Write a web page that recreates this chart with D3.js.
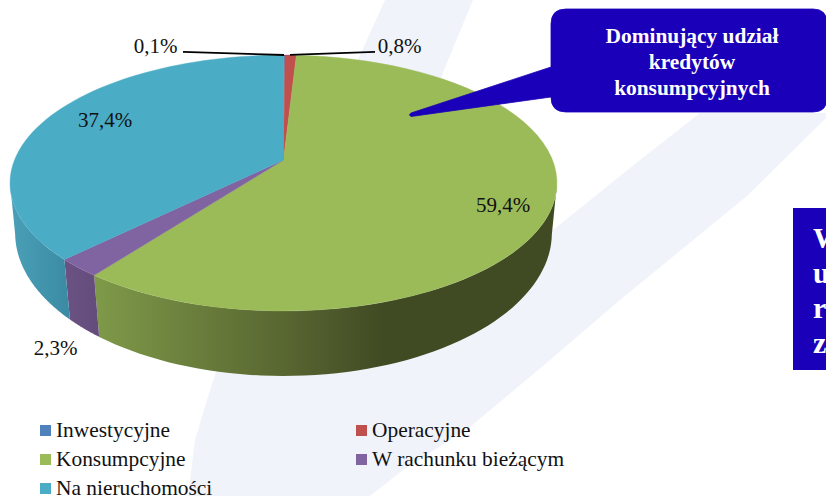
<!DOCTYPE html>
<html lang="en">
<head>
<meta charset="utf-8">
<title>Kredyty</title>
<script src="https://d3js.org/d3.v7.min.js"></script>
<style>
html, body { margin: 0; padding: 0; background: #fff; overflow: hidden; }
text { font-family: "Liberation Serif", serif; fill: #111; }
</style>
</head>
<body>
<script>
var categories = ["Inwestycyjne", "Operacyjne", "Konsumpcyjne", "W rachunku bieżącym", "Na nieruchomości"];
var values = [0.1, 0.8, 59.4, 2.3, 37.4];
var valueLabels = ["0,1%", "0,8%", "59,4%", "2,3%", "37,4%"];
var topColors = ["#4f81bd", "#c0504d", "#9bbb59", "#8064a2", "#4bacc6"];
var calloutLines = ["Dominujący udział", "kredytów", "konsumpcyjnych"];
var sideLetters = ["W", "u", "r", "z"];

var w = 826, h = 496;
var svg = d3.select("body").append("svg").attr("width", w).attr("height", h).style("display", "block");

// pale background swoosh, most of the inner edge is hidden by the pie
var bg = "#f0f3f9";
svg.append("path").attr("fill", bg)
  .attr("d", "M385,0 L473,0 L442,75 L420,200 L553,230 L640,160 L700,113 L827,113 L827,117 L747,196 L620,300 L550,360 L470,427 L403,470 L370,496 L188,496 L195,440 L207,400 L215,375 Z");

// perspective of the pie: the centre sits above the middle of the ellipse
var cx = 283.5, cy = 160, A = 269, B = 123.8, k = 0.18;
var A2 = 264.5, B2 = 139, k2 = 0.169, wallDrop = 48.7;

function topPoint(a) {
  var u = Math.sin(a), v = -Math.cos(a), d = 1 - k * v;
  return [cx + A * u / d, cy + B * v / d];
}
function bottomPoint(a) {
  var u = Math.sin(a), v = -Math.cos(a), d = 1 - k2 * v;
  return [cx + A2 * u / d, cy + wallDrop + B2 * v / d];
}

var arcs = d3.pie().sort(null)(values);
var line = d3.line();

function arcPoints(fn, a0, a1) {
  return d3.range(0, 61).map(function(i) { return fn(a0 + (a1 - a0) * i / 60); });
}

// wall shading runs along x
var wallStops = {
  2: [[93, "#7f9a49"], [300, "#55622f"], [385, "#404a23"], [557, "#404a23"]],
  3: [[64, "#6a5284"], [98, "#644c7b"]],
  4: [[10, "#4aa0b8"], [70, "#3b8aa3"]]
};
var defs = svg.append("defs");
Object.keys(wallStops).forEach(function(i) {
  var st = wallStops[i];
  var x0 = st[0][0], x1 = st[st.length - 1][0];
  defs.append("linearGradient").attr("id", "wall" + i)
    .attr("gradientUnits", "userSpaceOnUse")
    .attr("x1", x0).attr("x2", x1).attr("y1", 0).attr("y2", 0)
    .selectAll("stop").data(st).enter().append("stop")
    .attr("offset", function(d) { return (d[0] - x0) / (x1 - x0); })
    .attr("stop-color", function(d) { return d[1]; });
});

// front walls: start where the top ellipse is widest
var frontFrom = Math.acos(-k), frontTo = 2 * Math.PI - frontFrom;
[2, 3, 4].forEach(function(i) {
  var a0 = Math.max(arcs[i].startAngle, frontFrom), a1 = Math.min(arcs[i].endAngle, frontTo);
  var pts = arcPoints(topPoint, a0, a1).concat(arcPoints(bottomPoint, a0, a1).reverse());
  svg.append("path").attr("d", line(pts) + "Z").attr("fill", "url(#wall" + i + ")");
});

// top faces
svg.selectAll("path.slice").data(arcs).enter().append("path")
  .attr("class", "slice")
  .attr("d", function(d) {
    return line([[cx, cy]].concat(arcPoints(topPoint, d.startAngle, d.endAngle))) + "Z";
  })
  .attr("fill", function(d, i) { return topColors[i]; })
  .attr("stroke", function(d, i) { return topColors[i]; })
  .attr("stroke-width", 0.4);

// callout
var blue = "#1a00b8";
svg.append("path").attr("fill", blue).attr("stroke", blue).attr("stroke-width", 0.8).attr("stroke-linejoin", "round")
  .attr("d", "M566,9 L813,9 Q827,9 827,23 L827,98 Q827,112 813,112 L566,112 Q551,112 551,97 L411,116.5 Q408,115 411,113 L551,67 L551,24 Q551,9 566,9 Z");
var callout = svg.append("text").attr("text-anchor", "middle").style("font-weight", "bold").style("font-size", "21.4px");
callout.selectAll("tspan").data(calloutLines).enter().append("tspan")
  .attr("x", 692).attr("y", function(d, i) { return 43 + i * 26; })
  .style("fill", "#fff").text(function(d) { return d; });

// cut off side box
svg.append("rect").attr("x", 793).attr("y", 208).attr("width", 33).attr("height", 162).attr("fill", blue);
svg.selectAll("text.side").data(sideLetters).enter().append("text")
  .attr("class", "side").attr("x", 813).attr("y", function(d, i) { return 248 + i * 35; })
  .style("font-weight", "bold").style("font-size", "30px").style("fill", "#fff")
  .text(function(d) { return d; });

// leader lines
svg.append("path").attr("fill", "none").attr("stroke", "#000").attr("stroke-width", 1.8)
  .attr("d", "M183,51.8 L284,55 M290,54.8 L375,51.8");

// value labels
var labelPos = [[155.5, 53], [399.5, 53], [503, 212], [55.5, 355], [105, 127]];
svg.selectAll("text.val").data(valueLabels).enter().append("text")
  .attr("class", "val")
  .attr("x", function(d, i) { return labelPos[i][0]; })
  .attr("y", function(d, i) { return labelPos[i][1]; })
  .attr("text-anchor", "middle").style("font-size", "21px")
  .text(function(d) { return d; });

// legend
var legendPos = [[40, 437], [356, 437], [40, 466], [356, 466], [40, 495]];
var legend = svg.selectAll("g.leg").data(categories).enter().append("g")
  .attr("class", "leg")
  .attr("transform", function(d, i) { return "translate(" + legendPos[i][0] + "," + legendPos[i][1] + ")"; });
legend.append("rect").attr("y", -12).attr("width", 11).attr("height", 11)
  .attr("fill", function(d, i) { return topColors[i]; });
legend.append("text").attr("x", 16).style("font-size", "21.4px").text(function(d) { return d; });
</script>
</body>
</html>
